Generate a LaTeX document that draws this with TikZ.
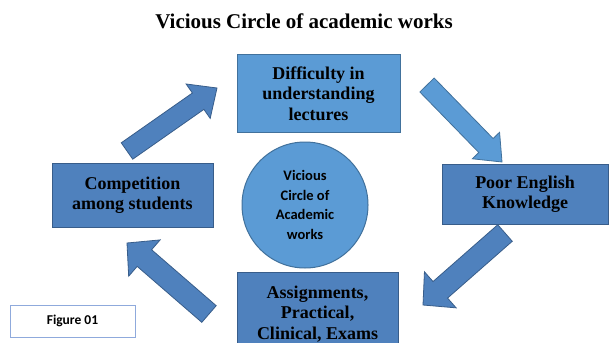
\documentclass[tikz,border=0pt]{standalone}
\usepackage{fontspec}
\setmainfont{Liberation Serif}
\newfontfamily\calibri{Carlito}
\usetikzlibrary{calc,positioning}
\definecolor{cycLight}{HTML}{5B9BD5}
\definecolor{cycDark}{HTML}{4F81BD}
\definecolor{cycLightEdge}{HTML}{41719C}
\definecolor{cycDarkEdge}{HTML}{385D8A}
\definecolor{cycFrame}{HTML}{8FAADC}
% block arrow: from, to, shaft half width, head half width, style
\newcommand{\blockarrow}[5]{%
  \coordinate (ba-c) at ($(#2)!23pt!(#1)$);
  \draw[#5] ($(#1)!#3!90:(#2)$) -- ($(ba-c)!#3!90:(#2)$) -- ($(ba-c)!#4!90:(#2)$) -- (#2)
    -- ($(ba-c)!#4!-90:(#2)$) -- ($(ba-c)!#3!-90:(#2)$) -- ($(#1)!#3!-90:(#2)$) -- cycle;}

\begin{document}
\begin{tikzpicture}[
x=1pt, y=-1pt,
every node/.style={inner sep=0pt, outer sep=0pt},
box/.style={draw=cycDarkEdge, fill=cycDark, line width=1pt, align=center, font=\fontsize{18}{20.5}\selectfont\bfseries},
boxL/.style={box, draw=cycLightEdge, fill=cycLight},
hub/.style={circle, draw=cycLightEdge, fill=cycLight, line width=1pt, minimum size=126pt, align=center, font=\calibri\fontsize{14.5}{19.5}\selectfont\bfseries},
blk/.style={draw=cycDarkEdge, fill=cycDark, line width=0.8pt, line join=miter},
blkL/.style={blk, draw=cycLightEdge, fill=cycLight}
]
\useasboundingbox (0,0) rectangle (609,342);
\fill[white] (0,0) rectangle (609,342);

% Title
\node[font=\fontsize{21}{24}\selectfont\bfseries] (title) at (304,21) {Vicious Circle of academic works};

% Block arrows (drawn first, boxes sit on top)
\coordinate (a1s) at (127,151); \coordinate (a1e) at (217,88);
\coordinate (a2s) at (427,85);  \coordinate (a2e) at (502,162);
\coordinate (a3s) at (505,233); \coordinate (a3e) at (423,305);
\coordinate (a4s) at (209,314); \coordinate (a4e) at (127,243);
\blockarrow{a1s}{a1e}{10pt}{21pt}{blk}
\blockarrow{a2s}{a2e}{10pt}{19pt}{blkL}
\blockarrow{a3s}{a3e}{11pt}{24pt}{blk}
\blockarrow{a4s}{a4e}{11pt}{24pt}{blk}

% Hub circle
\node[hub] (hub) at (305,205) {Vicious\\Circle of\\Academic\\works};

% Four stages round the circle
\node[boxL, minimum width=163pt, minimum height=77pt] (diff) at (318.5,93.5) {Difficulty in\\understanding\\lectures};
\node[box, minimum width=166pt, minimum height=60pt] (eng) at (525,194) {Poor English\\Knowledge};
\node[box, minimum width=161pt, minimum height=84pt] (assign) at (317.5,314) {Assignments,\\Practical,\\Clinical, Exams};
\node[box, minimum width=161pt, minimum height=64pt] (comp) at (132.5,195) {Competition\\among students};

% Caption box
\node[draw=cycFrame, line width=1pt, minimum width=125pt, minimum height=32pt, font=\calibri\fontsize{13.5}{16}\selectfont\bfseries] (fig) at (72.5,321) {Figure 01};

\end{tikzpicture}
\end{document}
